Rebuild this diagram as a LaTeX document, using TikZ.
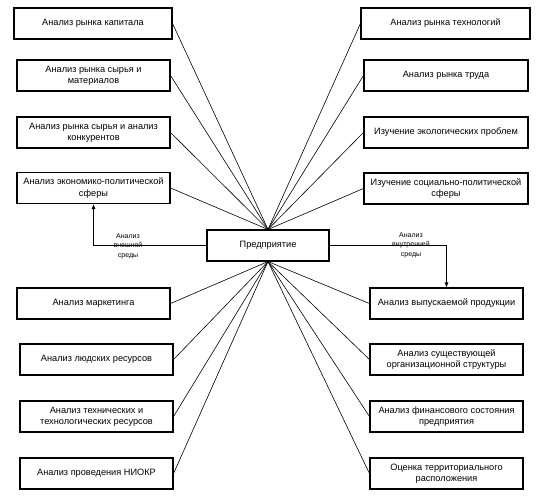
\documentclass[tikz,border=0pt]{standalone}
\usepackage{fontspec}
\setmainfont{Liberation Sans}
\usetikzlibrary{arrows.meta}
\begin{document}
\begin{tikzpicture}[x=1pt,y=-1pt,
  box/.style={draw, line width=1.1pt, minimum height=31pt, inner sep=1pt, align=center,
    font=\fontsize{9.2}{11.2}\selectfont},
  link/.style={line width=0.6pt},
  flow/.style={line width=0.6pt, -{Latex[length=5pt,width=4pt]}},
  lbl/.style={align=center, font=\fontsize{7}{9.5}\selectfont, inner sep=0}]
\useasboundingbox (0,0) rectangle (544,496);
% center
\node[box, minimum width=122pt] (C) at (268,245.5) {Предприятие};
% left upper
\node[box, minimum width=158pt] (L1) at (93,23.5) {Анализ рынка капитала};
\node[box, minimum width=153pt] (L2) at (93.5,75.5) {Анализ рынка сырья и\\материалов};
\node[box, minimum width=153pt] (L3) at (93.5,132.5) {Анализ рынка сырья и анализ\\конкурентов};
\node[box, minimum width=153pt] (L4) at (93.5,188) {Анализ экономико-политической\\сферы};
% right upper
\node[box, minimum width=169pt] (R1) at (445.5,23.5) {Анализ рынка технологий};
\node[box, minimum width=164pt] (R2) at (446,75.5) {Анализ рынка труда};
\node[box, minimum width=164pt] (R3) at (446,132.5) {Изучение экологических проблем};
\node[box, minimum width=164pt] (R4) at (446,188.5) {Изучение социально-политической\\сферы};
% left lower
\node[box, minimum width=153pt] (L5) at (93.5,303.5) {Анализ маркетинга};
\node[box, minimum width=153pt] (L6) at (96.5,359.5) {Анализ людских ресурсов};
\node[box, minimum width=153pt] (L7) at (96.5,416.5) {Анализ технических и\\технологических ресурсов};
\node[box, minimum width=153pt] (L8) at (96.5,473.5) {Анализ проведения НИОКР};
% right lower
\node[box, minimum width=153pt] (R5) at (446.5,303.5) {Анализ выпускаемой продукции};
\node[box, minimum width=153pt] (R6) at (446.5,359.5) {Анализ существующей\\организационной структуры};
\node[box, minimum width=153pt] (R7) at (446.5,416.5) {Анализ финансового состояния\\предприятия};
\node[box, minimum width=153pt] (R8) at (446.5,473.5) {Оценка территориального\\расположения};
% links
\foreach \n in {L1,L2,L3,L4}{\draw[link] (\n.east) -- (C.north);}
\foreach \n in {R1,R2,R3,R4}{\draw[link] (\n.west) -- (C.north);}
\foreach \n in {L5,L6,L7,L8}{\draw[link] (\n.east) -- (C.south);}
\foreach \n in {R5,R6,R7,R8}{\draw[link] (\n.west) -- (C.south);}
% arrows
\draw[flow] (C.west) -| (L4.south);
\draw[flow] (C.east) -| (R5.north);
\node[lbl] (la) at (128,246) {Анализ\\внешней\\среды};
\node[lbl] (lb) at (411,245) {Анализ\\внутренней\\среды};
\end{tikzpicture}
\end{document}
